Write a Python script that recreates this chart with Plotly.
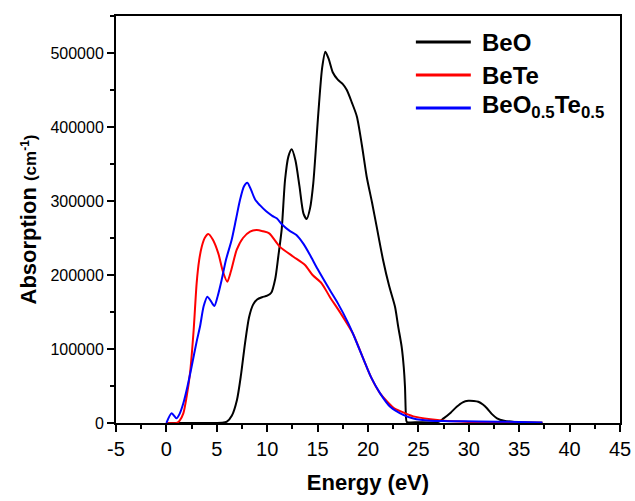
import plotly.graph_objects as go

beo_E = [0, 5, 5.5, 6, 6.5, 7, 7.4, 7.8, 8.2, 8.6, 9.0, 9.5, 10.0, 10.4, 10.8, 11.1, 11.44, 11.77, 12.1, 12.43,
         12.8, 13.2, 13.6, 13.92, 14.25, 14.57, 15.07, 15.45, 15.77, 16.1, 16.5, 17.0, 17.5, 17.9, 18.4, 18.9,
         19.4, 19.87, 20.4, 20.86, 21.5, 22.1, 22.68, 23.0, 23.34, 23.55, 23.67, 23.77, 23.85, 25, 27,
         27.5, 28.2, 28.8, 29.4, 29.95, 30.5, 30.94, 31.4, 31.8, 32.3, 32.8, 33.5, 34.5, 37.3]
beo_A = [0, 0, 300, 1800, 10000, 31000, 65000, 107700, 143000, 160000, 167000, 170000, 172000, 176000,
         195000, 225000, 262000, 328400, 360000, 369900, 355000, 320000, 283000, 275700, 290000, 323900, 418500,
         480000, 501800, 492000, 474000, 464000, 458000, 450000, 433000, 414000, 375000, 332800, 298000, 265300,
         220000, 185000, 157000, 130000, 103000, 75000, 49000, 8000, 1500, 1000, 1500, 6300, 14000, 22000,
         28000, 30000, 29800, 28800, 25000, 19900, 12000, 6300, 3000, 1500, 500]

bete_E = [0, 1.0, 1.3, 1.68, 2.0, 2.34, 2.7, 3.0, 3.25, 3.5, 3.8, 4.16, 4.6, 5.15, 5.6, 6.04, 6.4, 6.97,
          7.6, 8.3, 8.96, 9.6, 10.2, 11.27, 12.6, 13.75, 14.5, 15.4, 16.2, 17.3, 18.5, 19.5, 20.3, 21.2,
          22.5, 23.2, 24.5, 26.2, 27.5, 30, 33, 37.3]
bete_A = [0, 0, 3000, 13100, 35000, 67000, 125000, 188800, 220000, 238000, 250000, 255400, 248000, 229300,
          205000, 191000, 205000, 233800, 250000, 258500, 260800, 259000, 256300, 238000, 224700, 213500,
          200000, 188800, 170700, 148000, 121000, 88000, 62000, 40100, 21000, 16000, 9000, 5000, 3000,
          1500, 800, 400]

mix_E = [0, 0.52, 1.0, 1.3, 1.68, 2.1, 2.5, 3.0, 3.33, 3.7, 4.06, 4.4, 4.76, 5.1, 5.48, 5.9, 6.47, 6.9,
         7.3, 7.7, 8.03, 8.4, 8.8, 9.3, 9.9, 10.5, 10.94, 11.5, 12.2, 12.9, 13.6, 14.25, 15.0, 16.2,
         17.0, 18.05, 18.5, 19.5, 20.3, 21.2, 22.2, 23.5, 24.5, 26.2, 28, 31, 35, 37.3]
mix_A = [0, 13100, 6300, 12000, 26600, 50000, 76100, 110000, 130000, 158000, 170700, 165000, 158100,
         172000, 193200, 220000, 247300, 275000, 301400, 320000, 324700, 315000, 302000, 294000, 286000,
         280000, 276600, 268000, 260000, 254000, 242000, 227000, 208000, 180000, 162000, 134700,
         121000, 88000, 62000, 40100, 22000, 11000, 6000, 3000, 2500, 2000, 1500, 800]

names = ["BeO", "BeTe", "BeO<sub>0.5</sub>Te<sub>0.5</sub>"]
colors = ["#000000", "#ff0000", "#0000ff"]

x_tickvals = [-5, 0, 5, 10, 15, 20, 25, 30, 35, 40, 45]
x_ticktext = ["-5", "0", "5", "10", "15", "20", "25", "30", "35", "40", "45"]

font = "Arial, Liberation Sans, sans-serif"
fig = go.Figure()
for i, (x, y) in enumerate([(beo_E, beo_A), (bete_E, bete_A), (mix_E, mix_A)]):
    fig.add_trace(go.Scatter(x=x, y=y, mode="lines", name=names[i], showlegend=False,
                             line=dict(color=colors[i], width=2, shape="spline", smoothing=0.7)))

# manual legend (paper coordinates; plot area 116..620 x 16..423 px)
leg_y = [0.936, 0.855, 0.774]
for i in range(3):
    fig.add_shape(type="line", xref="paper", yref="paper", x0=0.595, x1=0.704, y0=leg_y[i], y1=leg_y[i],
                  line=dict(color=colors[i], width=3))
    fig.add_annotation(xref="paper", yref="paper", x=0.724, y=leg_y[i] + (0.004 if i == 2 else 0.0),
                       xanchor="left", yanchor="middle", showarrow=False, text="<b>" + names[i] + "</b>",
                       borderpad=0, font=dict(size=24, family=font, color="black"))

fig.update_layout(
    width=635, height=501,
    margin=dict(l=116, r=15, t=16, b=78, autoexpand=False),
    plot_bgcolor="white", paper_bgcolor="white",
    font=dict(family=font, color="black"),
    showlegend=False,
    xaxis=dict(range=[-5, 45], tickvals=x_tickvals, ticktext=x_ticktext, showline=True, linecolor="black",
               linewidth=2, mirror=True, ticks="outside", ticklen=7, tickwidth=2, tickcolor="black",
               showgrid=False, zeroline=False, tickfont=dict(size=20, family=font), automargin=False,
               minor=dict(ticks="outside", ticklen=4, tickwidth=2, tickcolor="black", dtick=2.5, tick0=-5),
               title=dict(text="<b>Energy (eV)</b>", font=dict(size=22, family=font), standoff=16)),
    yaxis=dict(range=[0, 550000], tick0=0, dtick=100000, showline=True, linecolor="black", linewidth=2,
               mirror=True, ticks="outside", ticklen=7, tickwidth=2, tickcolor="black", automargin=False,
               showgrid=False, zeroline=False, tickfont=dict(size=16, family=font), tickformat="d",
               minor=dict(ticks="outside", ticklen=4, tickwidth=2, tickcolor="black", dtick=50000),
               title=dict(text="<b>Absorption <span style='font-size:17px'>(cm<sup>-1</sup>)</span></b>",
                          font=dict(size=22, family=font), standoff=8)),
)
fig.write_html("out.html")
